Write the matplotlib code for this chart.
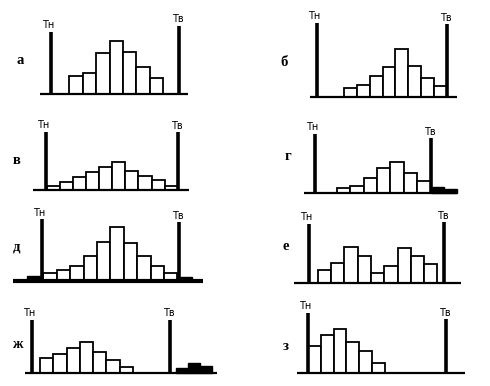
import matplotlib
matplotlib.use("Agg")
import matplotlib.pyplot as plt
import numpy as np

# panel letters
letters = ["а", "б", "в", "г", "д", "е", "ж", "з"]

# bar heights (px) of the white histogram bins, per panel
h_a = [18, 20.7, 41.3, 53.3, 42.3, 26.7, 16]
h_b = [8.7, 11.7, 20.4, 29.7, 47.4, 30.4, 18.4, 10.7]
h_v = [4.3, 8.3, 13.3, 17.7, 22.7, 28.3, 19.3, 14.3, 10, 3.7]
h_g = [4.7, 6.7, 14.4, 24.4, 30.4, 19.4, 11.4]
h_d = [8, 10.7, 15, 25, 39, 54, 38.3, 25.3, 15.3, 8]
h_e = [13, 19.4, 35.4, 27, 9.7, 16.7, 34.7, 26.7, 18.4]
h_zh = [14.7, 18.4, 25, 31, 21, 12.4, 5.4]
h_z = [27.3, 38.3, 44.3, 31.7, 22, 10]

# defective (out of tolerance) bins, black
blk_g = [5.7, 3.4]
blk_d_left = [5.5]
blk_d_right = [4.5]
blk_zh = [5, 9.7, 6.3]

# layout in pixels: baseline y, axis x range, first bin, bin width, Tн/Тв x and tops, letter pos
panels = [
    dict(h=h_a, base=94, x0=40, x1=188, start=69.3, w=13.4, tn=51, tn_top=32, tv=179, tv_top=26, lab=(20, 60)),
    dict(h=h_b, base=96.7, x0=310, x1=456.7, start=344, w=12.85, tn=317.3, tn_top=22.7, tv=447.3, tv_top=24.3, lab=(284, 63)),
    dict(h=h_v, base=190, x0=33.3, x1=189.3, start=46.7, w=13.1, tn=45.7, tn_top=131.7, tv=178.3, tv_top=132.3, lab=(17, 160)),
    dict(h=h_g, base=192.7, x0=304.3, x1=457.3, start=336.7, w=13.43, tn=315, tn_top=134, tv=430.7, tv_top=138.3, lab=(288, 157),
         blk=[(430.7, 13, blk_g)]),
    dict(h=h_d, base=281, x0=13.3, x1=203.3, start=43.3, w=13.4, tn=41.7, tn_top=219, tv=179.3, tv_top=222.3, lab=(16, 247),
         blk=[(26.7, 15, blk_d_left), (180, 11.7, blk_d_right)], thick=True),
    dict(h=h_e, base=282.7, x0=294.3, x1=461, start=317.7, w=13.3, tn=309.3, tn_top=224, tv=444.3, tv_top=222.3, lab=(286, 247)),
    dict(h=h_zh, base=372.7, x0=25, x1=216.7, start=40, w=13.25, tn=31.7, tn_top=320, tv=170, tv_top=320, lab=(17, 345),
         blk=[(175.7, 12.2, blk_zh)]),
    dict(h=h_z, base=373.3, x0=296.7, x1=465, start=308.3, w=12.7, tn=308.3, tn_top=312.7, tv=445.7, tv_top=319, lab=(286, 347)),
]

fig = plt.figure(figsize=(4.9, 3.86), dpi=100)
ax = fig.add_axes([0, 0, 1, 1])
ax.set_xlim(0, 490)
ax.set_ylim(386, 0)
ax.axis("off")

for letter, p in zip(letters, panels):
    base = p["base"]
    hs = np.array(p["h"])
    xs = p["start"] + p["w"] * np.arange(len(hs))
    ax.bar(xs, -hs, width=p["w"], bottom=base, align="edge",
           facecolor="white", edgecolor="black", linewidth=1.3, zorder=2)
    for bstart, bw, bh in p.get("blk", []):
        bh = np.array(bh)
        bx = bstart + bw * np.arange(len(bh))
        ax.bar(bx, -bh, width=bw, bottom=base, align="edge",
               facecolor="black", edgecolor="black", linewidth=1, zorder=2)
    ax.plot([p["x0"], p["x1"]], [base, base], color="black",
            linewidth=3 if p.get("thick") else 1.6, zorder=3, solid_capstyle="butt")
    ax.plot([p["tn"], p["tn"]], [base, p["tn_top"]], color="black", linewidth=2.6, zorder=4, solid_capstyle="butt")
    ax.plot([p["tv"], p["tv"]], [base, p["tv_top"]], color="black", linewidth=2.6, zorder=4, solid_capstyle="butt")
    ax.text(p["tn"] - 3, p["tn_top"] - 1.5, "Тн", ha="center", va="bottom", fontsize=7, family="DejaVu Sans")
    ax.text(p["tv"] - 1, p["tv_top"] - 1.5, "Тв", ha="center", va="bottom", fontsize=7, family="DejaVu Sans")
    ax.text(p["lab"][0], p["lab"][1], letter, ha="center", va="center", fontsize=10.5,
            fontweight="bold", family="Liberation Serif")

fig.savefig("out.png", dpi=100)
